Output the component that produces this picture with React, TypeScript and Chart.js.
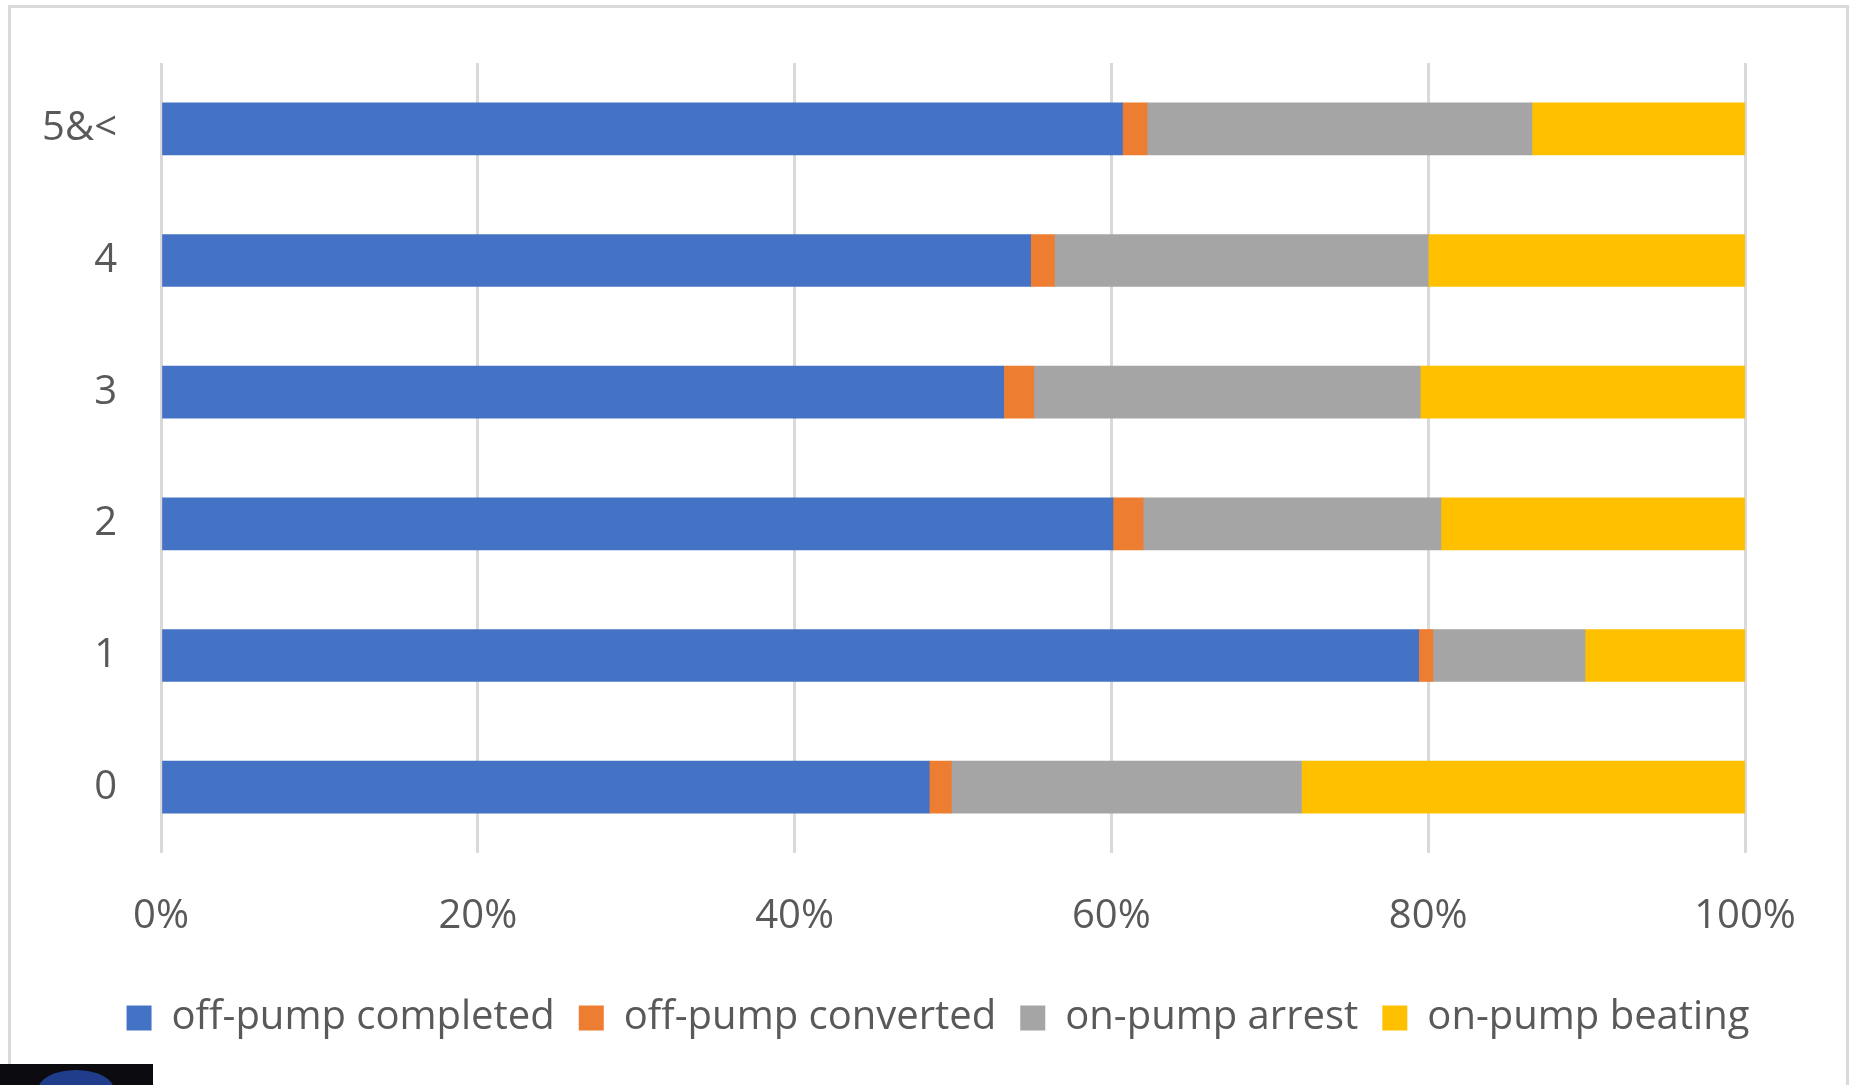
import React, { useEffect, useRef } from "react";
import { Chart, registerables } from "chart.js";

Chart.register(...registerables);

const categories = ["5&<", "4", "3", "2", "1", "0"];
const offPumpCompleted = [60.7, 54.9, 53.2, 60.1, 79.4, 48.5];
const offPumpConverted = [1.55, 1.5, 1.9, 1.9, 0.9, 1.4];
const onPumpArrest = [24.3, 23.6, 24.4, 18.8, 9.6, 22.1];
const onPumpBeating = [13.45, 20.0, 20.5, 19.2, 10.1, 28.0];
const xTicks = [0, 20, 40, 60, 80, 100];

const seriesNames = ["off-pump completed", "off-pump converted", "on-pump arrest", "on-pump beating"];
const seriesColors = ["#4472C4", "#ED7D31", "#A5A5A5", "#FFC000"];

export default function App() {
  const ref = useRef<HTMLCanvasElement | null>(null);

  useEffect(() => {
    if (!ref.current) return;
    const font = { family: "'Open Sans', sans-serif", size: 40 };
    const values = [offPumpCompleted, offPumpConverted, onPumpArrest, onPumpBeating];
    const chart = new Chart(ref.current, {
      type: "bar",
      data: {
        labels: categories,
        datasets: values.map((d, i) => ({
          label: seriesNames[i],
          data: d,
          backgroundColor: seriesColors[i],
          borderWidth: 0,
          barThickness: 52,
        })),
      },
      options: {
        indexAxis: "y",
        animation: false,
        responsive: false,
        devicePixelRatio: 1,
        layout: { padding: { top: 63, right: 0, bottom: 37, left: 25 } },
        scales: {
          x: {
            stacked: true,
            min: 0,
            max: 100,
            afterBuildTicks: (scale: any) => {
              scale.ticks = xTicks.map((v) => ({ value: v }));
            },
            afterFit: (scale: any) => {
              scale.height = 121;
              scale.paddingRight = 106;
            },
            grid: { color: "#d9d9d9", lineWidth: 3, drawTicks: false },
            border: { display: false },
            ticks: {
              color: "#595959",
              font,
              padding: 40,
              maxRotation: 0,
              callback: (v: any) => v + "%",
            },
          },
          y: {
            stacked: true,
            afterFit: (scale: any) => {
              scale.width = 136;
              scale.paddingTop = 0;
              scale.paddingBottom = 0;
            },
            grid: { display: false, drawTicks: false },
            border: { display: false },
            ticks: { color: "#595959", font, padding: 44 },
          },
        },
        plugins: {
          legend: {
            position: "bottom",
            labels: {
              color: "#595959",
              font,
              boxWidth: 25,
              boxHeight: 25,
              padding: 24,
            },
          },
          tooltip: { enabled: false },
        },
      },
    });
    return () => chart.destroy();
  }, []);

  return (
    <div>
      <div
        style={{
          position: "fixed",
          left: 8,
          top: 5,
          width: 1841,
          height: 1100,
          border: "3px solid #dadada",
          boxSizing: "border-box",
          background: "#ffffff",
        }}
      />
      <canvas
        ref={ref}
        width={1851}
        height={1085}
        style={{ position: "fixed", left: 0, top: 0, width: 1851, height: 1085 }}
      />
      <div
        style={{
          position: "fixed",
          left: 0,
          top: 1064,
          width: 153,
          height: 21,
          background: "#0b0b10",
          overflow: "hidden",
        }}
      >
        <div
          style={{
            position: "absolute",
            left: 38,
            top: 6,
            width: 76,
            height: 40,
            borderRadius: "50%",
            background: "#1f3d8a",
          }}
        />
      </div>
    </div>
  );
}
